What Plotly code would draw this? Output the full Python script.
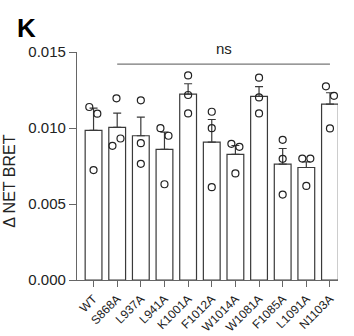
import plotly.graph_objects as go

categories = ["WT", "S868A", "L937A", "L941A", "K1001A", "F1012A",
              "W1014A", "W1081A", "F1085A", "L1091A", "N1103A"]
means = [0.00984, 0.01004, 0.00949, 0.00859, 0.01223, 0.00907,
         0.00826, 0.01208, 0.00762, 0.00740, 0.01157]
sem = [0.00147, 0.00094, 0.00123, 0.00114, 0.00068, 0.00149,
       0.00059, 0.00064, 0.00103, 0.00037, 0.00075]
replicates = [
    [0.01138, 0.01094, 0.00723],
    [0.01195, 0.00883, 0.00931],
    [0.01182, 0.00900, 0.00764],
    [0.00999, 0.00949, 0.00630],
    [0.01346, 0.01217, 0.01096],
    [0.01107, 0.00999, 0.00611],
    [0.00896, 0.00876, 0.00701],
    [0.01331, 0.01201, 0.01096],
    [0.00922, 0.00797, 0.00562],
    [0.00799, 0.00799, 0.00619],
    [0.01274, 0.01212, 0.00997],
]
jitter = [
    [-0.18, 0.16, 0.0],
    [-0.03, -0.20, 0.14],
    [0.0, 0.0, 0.0],
    [-0.17, 0.17, 0.0],
    [0.0, 0.0, 0.0],
    [0.0, 0.0, 0.0],
    [-0.17, 0.17, 0.0],
    [0.0, 0.0, 0.0],
    [0.0, 0.0, 0.0],
    [-0.17, 0.17, 0.0],
    [-0.17, 0.17, 0.0],
]
y_ticks = [0.0, 0.005, 0.010, 0.015]
y_tick_labels = ["0.000", "0.005", "0.010", "0.015"]
ns_value = 0.0142
ns_from, ns_to = "S868A", "N1103A"

idx = list(range(len(categories)))
font = "Liberation Sans, Arial, sans-serif"
fig = go.Figure()
fig.add_trace(go.Bar(
    x=idx, y=means, width=0.71,
    marker=dict(color="white", line=dict(color="#3a3a3a", width=1.2)),
    error_y=dict(type="data", symmetric=False, array=sem,
                 arrayminus=[0] * len(sem), color="#3a3a3a",
                 thickness=1.2, width=4),
    showlegend=False,
))
px, py = [], []
for i, (vals, offs) in enumerate(zip(replicates, jitter)):
    for v, o in zip(vals, offs):
        px.append(i + o)
        py.append(v)
fig.add_trace(go.Scatter(
    x=px, y=py, mode="markers",
    marker=dict(symbol="circle-open", size=7, color="#222",
                line=dict(width=1.2)),
    showlegend=False, cliponaxis=False,
))
i0, i1 = categories.index(ns_from), categories.index(ns_to)
fig.add_shape(type="line", xref="x", yref="y", x0=i0, x1=i1,
              y0=ns_value, y1=ns_value, line=dict(color="#777", width=1.2))
fig.add_annotation(x=(i0 + i1) / 2, y=ns_value, yref="y", xref="x",
                   text="ns", showarrow=False, yshift=16,
                   font=dict(family=font, size=15, color="#222"))
fig.add_annotation(x=-0.195, y=1.107, xref="paper", yref="paper",
                   xanchor="center", yanchor="middle",
                   text="<b>K</b>", showarrow=False,
                   font=dict(family=font, size=26, color="black"))
fig.add_annotation(x=-0.262, y=0.434, xref="paper", yref="paper",
                   xanchor="center", yanchor="middle", textangle=-90,
                   text="Δ NET BRET", showarrow=False,
                   font=dict(family=font, size=16, color="#222"))
fig.update_layout(
    width=354, height=336,
    margin=dict(l=77, r=16, t=52, b=56),
    plot_bgcolor="white", paper_bgcolor="white",
    bargap=0.29,
    font=dict(family=font, color="#222"),
)
fig.update_xaxes(
    range=[-0.7, 10.34], tickmode="array", tickvals=idx,
    ticktext=categories, tickangle=-45, tickfont=dict(size=12),
    showline=True, linecolor="#666", linewidth=1.2,
    ticks="outside", ticklen=6, tickcolor="#666", tickwidth=1.2,
    showgrid=False, zeroline=False, automargin=False,
)
fig.update_yaxes(
    range=[0, 0.015], tickmode="array", tickvals=y_ticks,
    ticktext=y_tick_labels, tickfont=dict(size=15),
    showline=True, linecolor="#666", linewidth=1.2,
    ticks="outside", ticklen=7, tickcolor="#666", tickwidth=1.2,
    showgrid=False, zeroline=False, automargin=False,
)
fig.write_html("out.html")
